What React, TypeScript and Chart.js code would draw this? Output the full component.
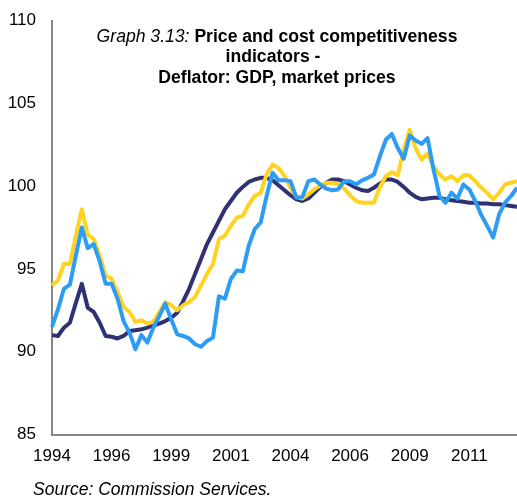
import React, { useEffect, useRef } from "react";
import { Chart, registerables } from "chart.js";

Chart.register(...registerables);

// Quarterly categories 1994Q1 .. 2013Q3
const startYear = 1994;
const quarterCount = 79;
const quarters: string[] = [];
for (let i = 0; i < quarterCount; i++) {
  quarters.push(`${startYear + Math.floor(i / 4)}Q${(i % 4) + 1}`);
}

// Tick labels shown every 10 quarters
const xTickLabels = ["1994", "1996", "1999", "2001", "2004", "2006", "2009", "2011"];
const yTicks = [85, 90, 95, 100, 105, 110];

const seriesNavy = [
  91.0, 90.95, 91.45, 91.75, 92.95, 94.1, 92.65, 92.4, 91.75, 90.95,
  90.9, 90.8, 90.95, 91.25, 91.3, 91.35, 91.45, 91.6, 91.7, 91.85,
  92.05, 92.35, 93.05, 93.8, 94.7, 95.6, 96.5, 97.2, 97.9, 98.6,
  99.1, 99.6, 99.95, 100.25, 100.4, 100.5, 100.5, 100.35, 100.05, 99.75,
  99.45, 99.2, 99.1, 99.25, 99.6, 99.95, 100.2, 100.4, 100.4, 100.3,
  100.1, 99.9, 99.75, 99.7, 99.9, 100.15, 100.4, 100.4, 100.25, 99.95,
  99.6, 99.35, 99.2, 99.25, 99.3, 99.3, 99.2, 99.15, 99.1, 99.05,
  99.0, 99.0, 98.95, 98.95, 98.9, 98.9, 98.85, 98.8, 98.75,
];

const seriesYellow = [
  94.0, 94.3, 95.3, 95.3, 97.0, 98.6, 97.05, 96.8, 95.8, 94.6,
  94.4, 93.6, 92.7, 92.4, 91.8, 91.9, 91.7, 91.8, 92.4, 93.0,
  92.8, 92.5, 92.8, 93.0, 93.3, 94.0, 94.7, 95.3, 96.8, 97.0,
  97.6, 98.1, 98.2, 98.9, 99.4, 99.6, 100.7, 101.3, 101.1, 100.6,
  99.9, 99.35, 99.25, 99.5, 99.8, 100.05, 100.2, 100.2, 100.1, 99.85,
  99.45, 99.1, 99.0, 99.0, 99.0, 99.95, 100.6, 100.85, 100.65, 102.2,
  103.4, 102.3, 101.6, 101.95, 101.2, 100.7, 100.4, 100.6, 100.3, 100.65,
  100.65, 100.3, 99.9, 99.6, 99.2, 99.6, 100.1, 100.2, 100.3,
];

const seriesBlue = [
  91.5, 92.55, 93.8, 94.05, 95.8, 97.5, 96.25, 96.5, 95.45, 94.1,
  94.1, 93.2, 91.85, 91.15, 90.15, 91.0, 90.55, 91.45, 92.15, 92.9,
  91.95, 91.05, 90.95, 90.8, 90.45, 90.3, 90.65, 90.85, 93.35, 93.2,
  94.4, 94.9, 94.85, 96.4, 97.4, 97.8, 99.4, 100.8, 100.35, 100.35,
  100.3, 99.3, 99.35, 100.3, 100.4, 100.1, 99.85, 99.75, 99.8, 100.3,
  100.3, 100.1, 100.35, 100.5, 100.7, 101.8, 102.8, 103.15, 102.3, 101.65,
  103.05, 102.75, 102.55, 102.9, 101.0, 99.4, 99.0, 99.6, 99.25, 100.1,
  99.8, 99.1, 98.25, 97.6, 96.9, 98.3, 99.0, 99.4, 99.9,
];

const titlePrefix = "Graph 3.13: ";
const titleLines = ["Price and cost competitiveness", "indicators -", "Deflator: GDP, market prices"];
const sourceText = "Source: Commission Services.";

const FONT = '"Liberation Sans", Arial, sans-serif';

const textPlugin = {
  id: "overlayTexts",
  afterDraw(chart: any) {
    const ctx = chart.ctx as CanvasRenderingContext2D;
    ctx.save();
    ctx.fillStyle = "#000";
    ctx.textBaseline = "middle";
    ctx.textAlign = "left";
    const italicFont = `italic 17.6px ${FONT}`;
    const boldFont = `bold 17.6px ${FONT}`;
    const cx = 277;
    ctx.font = italicFont;
    const w1 = ctx.measureText(titlePrefix).width;
    ctx.font = boldFont;
    const w2 = ctx.measureText(titleLines[0]).width;
    const x = cx - (w1 + w2) / 2;
    ctx.font = italicFont;
    ctx.fillText(titlePrefix, x, 37);
    ctx.font = boldFont;
    ctx.fillText(titleLines[0], x + w1, 37);
    ctx.textAlign = "center";
    ctx.fillText(titleLines[1], 273, 57.5);
    ctx.fillText(titleLines[2], 277, 78);
    ctx.textAlign = "left";
    ctx.font = `italic 17.5px ${FONT}`;
    ctx.fillText(sourceText, 33, 490);
    ctx.restore();
  },
};

export default function App() {
  const canvasRef = useRef<HTMLCanvasElement | null>(null);

  useEffect(() => {
    const canvas = canvasRef.current;
    if (!canvas) return;
    const chart = new Chart(canvas, {
      type: "line",
      data: {
        labels: quarters,
        datasets: [
          {
            label: "Navy",
            data: seriesNavy,
            borderColor: "#2E3172",
            borderWidth: 4,
            pointRadius: 0,
            fill: false,
            order: 3,
            borderJoinStyle: "round",
          },
          {
            label: "Yellow",
            data: seriesYellow,
            borderColor: "#FFD320",
            borderWidth: 4,
            pointRadius: 0,
            fill: false,
            order: 2,
            borderJoinStyle: "round",
          },
          {
            label: "Blue",
            data: seriesBlue,
            borderColor: "#2D9CF4",
            borderWidth: 4,
            pointRadius: 0,
            fill: false,
            order: 1,
            borderJoinStyle: "round",
          },
        ],
      },
      options: {
        responsive: false,
        animation: false,
        devicePixelRatio: 1,
        layout: { padding: { top: 20.5, right: 0, bottom: 0, left: 0 } },
        plugins: {
          legend: { display: false },
          tooltip: { enabled: false },
          title: { display: false },
        },
        scales: {
          x: {
            type: "category",
            offset: false,
            grid: { display: false, drawTicks: false },
            border: { display: true, color: "#868686", width: 2 },
            ticks: {
              autoSkip: false,
              maxRotation: 0,
              minRotation: 0,
              padding: 12,
              color: "#000",
              font: { family: FONT, size: 17 },
              callback: (_v: any, index: number) =>
                index % 10 === 0 ? xTickLabels[index / 10] ?? "" : "",
            },
            afterFit: (axis: any) => {
              axis.height = 65.5;
              axis.paddingRight = 0;
              axis.paddingLeft = 0;
            },
          },
          y: {
            min: 85,
            max: 110,
            afterBuildTicks: (axis: any) => {
              axis.ticks = yTicks.map((v) => ({ value: v }));
            },
            grid: { display: false, drawTicks: false },
            border: { display: true, color: "#868686", width: 2 },
            ticks: {
              padding: 16,
              color: "#000",
              font: { family: FONT, size: 17 },
            },
            afterFit: (axis: any) => {
              axis.width = 52;
              axis.paddingTop = 0;
              axis.paddingBottom = 0;
            },
          },
        },
      },
      plugins: [textPlugin],
    });
    return () => chart.destroy();
  }, []);

  return (
    <div style={{ position: "absolute", left: 0, top: 0, width: 517, height: 500, background: "#fff" }}>
      <canvas ref={canvasRef} width={517} height={500} style={{ width: 517, height: 500, display: "block" }} />
    </div>
  );
}
